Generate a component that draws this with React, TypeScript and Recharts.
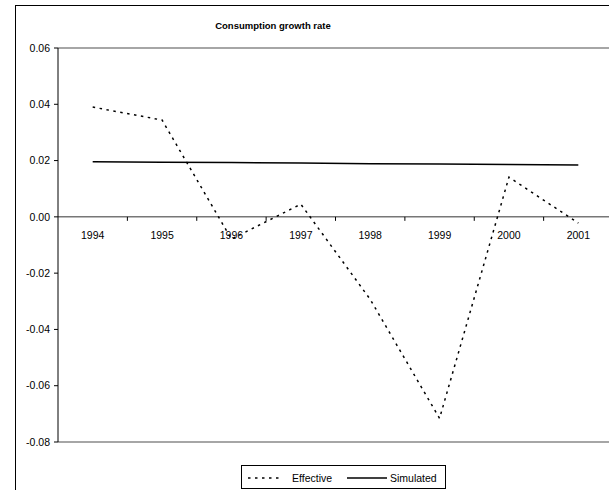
import React from "react";
import { LineChart, Line, XAxis, YAxis, ReferenceLine } from "recharts";

const years = ["1994", "1995", "1996", "1997", "1998", "1999", "2000", "2001"];
const effective = [0.039, 0.0344, -0.0079, 0.0045, -0.0293, -0.0716, 0.0141, -0.0022];
const simulated = [0.0196, 0.0194, 0.0193, 0.0191, 0.0189, 0.0188, 0.0186, 0.0184];
const yTicks = [-0.08, -0.06, -0.04, -0.02, 0, 0.02, 0.04, 0.06];
const title = "Consumption growth rate";
const seriesNames = ["Effective", "Simulated"];

const data = years.map((y, i) => ({ year: y, Effective: effective[i], Simulated: simulated[i] }));

const CHART_W = 625;
const CHART_H = 490;
const M_TOP = 48;
const M_LEFT = 15;
const M_RIGHT = 12;
const M_BOTTOM = 18;
const Y_W = 43;
const X_H = 30;
const PLOT_W = CHART_W - M_LEFT - M_RIGHT - Y_W;
const PLOT_H = CHART_H - M_TOP - M_BOTTOM - X_H;
const Y_MIN = -0.08;
const Y_MAX = 0.06;
const ZERO_Y = M_TOP + (PLOT_H * (Y_MAX - 0)) / (Y_MAX - Y_MIN);
const BAND = PLOT_W / years.length;
const FONT = "'Liberation Sans', Arial, sans-serif";
const DASH = "2.5 4.5";

const XTick = (props: any) => {
  const { x, payload } = props;
  return (
    <g>
      <line x1={x + BAND / 2} x2={x + BAND / 2} y1={ZERO_Y} y2={ZERO_Y + 4} stroke="#000" strokeWidth={1} />
      <text x={x} y={ZERO_Y + 22} textAnchor="middle" fontSize={10.5} fontFamily={FONT} fill="#000">
        {payload.value}
      </text>
    </g>
  );
};

const LegendBox = () => (
  <div
    style={{
      position: "absolute",
      left: 241,
      top: 465,
      width: 205,
      height: 24,
      border: "1px solid #000",
      background: "#fff",
      boxSizing: "border-box",
    }}
  >
    <svg width={205} height={24} style={{ position: "absolute", left: -1, top: -1 }}>
      <line x1={7} x2={42} y1={13} y2={13} stroke="#000" strokeWidth={1.5} strokeDasharray={DASH} />
      <text x={51} y={17} fontSize={10.5} fontFamily={FONT}>{seriesNames[0]}</text>
      <line x1={106} x2={146} y1={13} y2={13} stroke="#000" strokeWidth={1.5} />
      <text x={149} y={17} fontSize={10.5} fontFamily={FONT}>{seriesNames[1]}</text>
    </svg>
  </div>
);

export default function App() {
  return (
    <div style={{ position: "absolute", left: 0, top: 0, width: 609, height: 490, overflow: "hidden", background: "#fff" }}>
      <div
        style={{
          position: "absolute",
          left: 15,
          top: 5,
          width: 700,
          height: 600,
          borderTop: "1.5px solid #000",
          borderLeft: "1px solid #000",
        }}
      />
      <div
        style={{
          position: "absolute",
          left: 173,
          top: 20,
          width: 200,
          textAlign: "center",
          fontFamily: FONT,
          fontWeight: "bold",
          fontSize: 9.5,
        }}
      >
        {title}
      </div>
      <div style={{ position: "absolute", left: 0, top: 0 }}>
        <LineChart
          width={CHART_W}
          height={CHART_H}
          data={data}
          margin={{ top: M_TOP, right: M_RIGHT, bottom: M_BOTTOM, left: M_LEFT }}
        >
          <ReferenceLine y={Y_MAX} stroke="#888" strokeWidth={1.5} />
          <ReferenceLine y={Y_MIN} stroke="#888" strokeWidth={1.5} />
          <ReferenceLine y={0} stroke="#777" strokeWidth={1.5} />
          <XAxis
            dataKey="year"
            scale="band"
            height={X_H}
            axisLine={false}
            tickLine={false}
            tick={<XTick />}
            interval={0}
          />
          <YAxis
            width={Y_W}
            domain={[Y_MIN, Y_MAX]}
            ticks={yTicks}
            tickFormatter={(v: number) => v.toFixed(2)}
            axisLine={{ stroke: "#000", strokeWidth: 1 }}
            tickLine={{ stroke: "#000" }}
            tickSize={4}
            tickMargin={4}
            tick={{ fontSize: 10.5, fontFamily: FONT, fill: "#000" }}
            allowDataOverflow
          />
          <Line
            dataKey="Effective"
            stroke="#000"
            strokeWidth={1.5}
            strokeDasharray={DASH}
            dot={false}
            isAnimationActive={false}
          />
          <Line dataKey="Simulated" stroke="#000" strokeWidth={1.5} dot={false} isAnimationActive={false} />
        </LineChart>
      </div>
      <LegendBox />
    </div>
  );
}
